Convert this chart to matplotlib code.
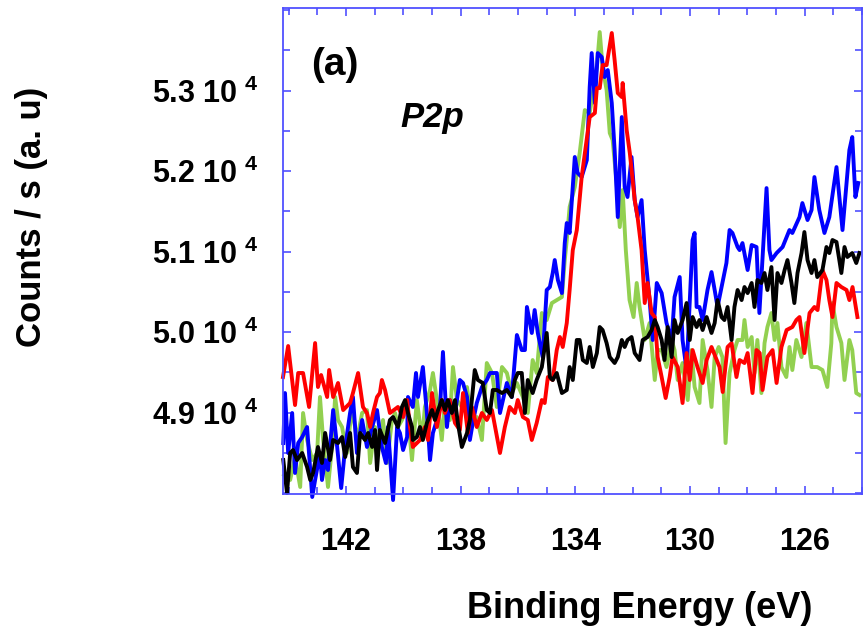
import matplotlib
matplotlib.use("Agg")
import matplotlib.pyplot as plt
from matplotlib.ticker import MultipleLocator, FixedLocator

plt.rcParams['font.family'] = ['Liberation Sans', 'DejaVu Sans']
plt.rcParams['font.weight'] = 'bold'
plt.rcParams['mathtext.fontset'] = 'custom'
plt.rcParams['mathtext.rm'] = 'Liberation Sans:bold'
plt.rcParams['mathtext.bf'] = 'Liberation Sans:bold'

# (binding energy eV, counts/s)
green = [(144.16, 48224), (143.95, 48162), (143.78, 48447), (143.60, 48075), (143.50, 48994), (143.36, 48659),
         (143.18, 48410), (143.01, 48497), (142.91, 49193), (142.80, 48659), (142.63, 48075), (142.49, 48572),
         (142.38, 49193), (142.28, 48907), (142.14, 48820), (141.97, 48497), (141.79, 49069), (141.62, 48659),
         (141.44, 48994), (141.27, 49031), (141.16, 48373), (140.99, 48820), (140.89, 48497), (140.71, 48907),
         (140.57, 48373), (140.40, 48907), (140.29, 48994), (140.19, 48820), (140.05, 48907), (139.87, 49069),
         (139.70, 48410), (139.53, 49155), (139.35, 48659), (139.25, 49069), (139.07, 49280), (138.97, 49491),
         (138.83, 49155), (138.66, 48659), (138.55, 49155), (138.38, 48907), (138.27, 49565), (138.13, 49155),
         (137.96, 49069), (137.78, 49317), (137.61, 48820), (137.44, 48944), (137.26, 48659), (137.09, 49615),
         (136.91, 49491), (136.74, 49069), (136.56, 49565), (136.39, 49491), (136.22, 49242), (136.04, 49367),
         (135.83, 49193), (135.66, 48994), (135.49, 49652), (135.35, 49491), (135.17, 50236), (135.00, 50149),
         (134.82, 50360), (134.65, 50397), (134.47, 50435), (134.37, 50894), (134.30, 51143), (134.20, 51553),
         (134.02, 51801), (133.85, 52223), (133.67, 52757), (133.50, 52720), (133.39, 52968), (133.25, 53291),
         (133.15, 53726), (133.05, 53291), (132.91, 53006), (132.80, 52472), (132.70, 52385), (132.56, 51851),
         (132.45, 51304), (132.35, 51764), (132.24, 51018), (132.11, 50397), (131.97, 50186), (131.86, 50609),
         (131.76, 50311), (131.58, 49901), (131.41, 50112), (131.23, 49404), (131.13, 49776), (130.99, 49776),
         (130.82, 49565), (130.64, 49901), (130.54, 49776), (130.43, 49404), (130.26, 49615), (130.08, 49155),
         (129.95, 49776), (129.84, 49317), (129.67, 49118), (129.56, 49901), (129.39, 49528), (129.25, 49069),
         (129.14, 49689), (129.00, 49814), (128.87, 49689), (128.76, 48621), (128.62, 49491), (128.45, 49776),
         (128.34, 49901), (128.17, 49901), (128.10, 50149), (127.99, 49814), (127.85, 49938), (127.75, 49491),
         (127.65, 49901), (127.51, 49242), (127.40, 49863), (127.30, 50062), (127.16, 50236), (127.05, 49901),
         (126.95, 50112), (126.81, 49565), (126.64, 49441), (126.53, 49814), (126.43, 49528), (126.29, 49901),
         (126.11, 49689), (125.94, 50112), (125.76, 49565), (125.56, 49565), (125.38, 49528), (125.21, 49317),
         (125.07, 49863), (125.03, 50360), (124.89, 50062), (124.72, 49863), (124.61, 49404), (124.44, 49901),
         (124.34, 49776), (124.20, 49242), (124.09, 49218)]

blue = [(144.19, 48621), (144.13, 49242), (144.02, 48497), (143.88, 48994), (143.78, 48249), (143.67, 48621),
        (143.53, 48696), (143.36, 48820), (143.25, 48286), (143.18, 47951), (143.08, 48162), (142.91, 48497),
        (142.84, 48162), (142.73, 48410), (142.63, 48286), (142.45, 49031), (142.31, 48572), (142.17, 48062),
        (142.03, 48572), (141.86, 48994), (141.76, 49193), (141.62, 48497), (141.44, 48907), (141.27, 48572),
        (141.09, 48820), (140.92, 49031), (140.75, 48572), (140.61, 48373), (140.54, 48820), (140.36, 47913),
        (140.22, 48820), (140.12, 48746), (140.01, 48534), (139.87, 48696), (139.84, 49193), (139.67, 49069),
        (139.56, 49491), (139.49, 49193), (139.32, 49565), (139.18, 48994), (139.07, 48410), (138.97, 48746),
        (138.83, 48907), (138.72, 49069), (138.62, 49752), (138.48, 48820), (138.38, 49155), (138.20, 48994),
        (138.03, 49404), (137.92, 49367), (137.78, 49193), (137.68, 48659), (137.58, 48870), (137.44, 49118),
        (137.26, 49317), (137.09, 49404), (136.98, 49491), (136.74, 49491), (136.63, 48994), (136.39, 49367),
        (136.22, 49193), (136.04, 49963), (135.87, 49776), (135.76, 49776), (135.69, 50311), (135.52, 49988),
        (135.42, 50273), (135.31, 49988), (135.14, 49689), (135.00, 50522), (134.89, 50559), (134.79, 50733),
        (134.72, 50894), (134.61, 50646), (134.47, 50484), (134.37, 51105), (134.30, 51354), (134.20, 51230),
        (134.02, 52174), (133.92, 51975), (133.78, 51925), (133.60, 52136), (133.50, 53043), (133.43, 53465),
        (133.32, 52844), (133.22, 53465), (133.08, 53416), (132.98, 53167), (132.87, 53254), (132.73, 52844),
        (132.63, 52260), (132.52, 51428), (132.38, 52670), (132.28, 51801), (132.18, 51677), (132.04, 52174),
        (131.93, 51639), (131.83, 51428), (131.69, 51639), (131.58, 51018), (131.41, 50397), (131.30, 49901),
        (131.16, 50609), (130.99, 50484), (130.82, 50112), (130.64, 49901), (130.54, 50435), (130.36, 50683),
        (130.26, 49901), (130.12, 49528), (129.91, 51143), (129.84, 51230), (129.77, 50311), (129.67, 50311),
        (129.56, 50149), (129.39, 50522), (129.25, 50745), (129.14, 50522), (129.04, 50311), (128.87, 50609),
        (128.73, 50857), (128.62, 51267), (128.52, 51230), (128.34, 51056), (128.27, 51018), (128.17, 51105),
        (127.99, 50770), (127.85, 51081), (127.68, 51056), (127.58, 50236), (127.33, 51788), (127.23, 51018),
        (127.16, 50894), (126.98, 50981), (126.77, 51056), (126.53, 51267), (126.43, 51230), (126.18, 51428),
        (126.08, 51602), (125.90, 51391), (125.76, 51515), (125.66, 51925), (125.49, 51515), (125.31, 51230),
        (125.14, 51428), (124.89, 52049), (124.68, 51267), (124.44, 52260), (124.34, 52422), (124.23, 51677),
        (124.13, 51851)]

red = [(144.20, 49441), (144.02, 49826), (143.78, 49093), (143.67, 49491), (143.50, 49491), (143.29, 49069),
       (143.08, 49863), (142.98, 49317), (142.87, 49466), (142.66, 49193), (142.59, 49528), (142.45, 49193),
       (142.28, 49367), (142.10, 49031), (141.86, 49118), (141.76, 49242), (141.58, 49491), (141.41, 49069),
       (141.27, 48994), (141.16, 48820), (141.06, 48994), (140.92, 49193), (140.82, 49242), (140.75, 49404),
       (140.64, 49280), (140.47, 48994), (140.19, 49069), (140.01, 48944), (139.87, 49155), (139.77, 48820),
       (139.67, 48572), (139.42, 48659), (139.25, 48820), (139.14, 48659), (139.00, 49242), (138.90, 48994),
       (138.83, 48820), (138.66, 49155), (138.55, 48994), (138.38, 49155), (138.20, 48870), (138.03, 48783),
       (137.92, 49242), (137.75, 48746), (137.61, 49069), (137.44, 48820), (137.26, 48994), (137.09, 48907),
       (136.91, 49031), (136.63, 48497), (136.46, 48820), (136.29, 49069), (136.11, 48994), (136.01, 49155),
       (135.83, 48944), (135.66, 48907), (135.52, 48659), (135.35, 48870), (135.17, 49155), (135.07, 49118),
       (134.96, 49441), (134.79, 49404), (134.65, 49776), (134.54, 49938), (134.44, 49814), (134.30, 50112),
       (134.20, 50522), (134.09, 51018), (133.95, 51266), (133.78, 51925), (133.50, 52670), (133.32, 52720),
       (133.25, 53030), (133.15, 53030), (133.05, 53316), (132.91, 53316), (132.73, 53714), (132.63, 53378),
       (132.52, 52968), (132.38, 52919), (132.35, 53093), (132.21, 52509), (132.10, 52223), (131.93, 51639),
       (131.83, 51428), (131.69, 51018), (131.58, 50360), (131.48, 50609), (131.34, 50236), (131.23, 50186),
       (131.13, 49690), (130.99, 49441), (130.85, 49180), (130.71, 49441), (130.61, 49690), (130.43, 49565),
       (130.26, 49118), (130.12, 49739), (130.01, 49404), (129.91, 49776), (129.74, 49565), (129.56, 49367),
       (129.42, 49652), (129.25, 49814), (129.07, 49652), (128.97, 49565), (128.86, 49255), (128.69, 49814),
       (128.55, 49863), (128.38, 49441), (128.27, 49652), (128.10, 49615), (127.99, 49739), (127.82, 49242),
       (127.68, 49776), (127.57, 49739), (127.47, 49280), (127.30, 49690), (127.12, 49776), (126.98, 49367),
       (126.81, 49814), (126.63, 50025), (126.43, 50062), (126.29, 50149), (126.18, 50186), (126.01, 49739),
       (125.83, 50236), (125.66, 50311), (125.55, 50273), (125.38, 50770), (125.24, 50646), (125.14, 50397),
       (125.03, 50186), (124.89, 50609), (124.72, 50559), (124.54, 50522), (124.44, 50397), (124.33, 50559),
       (124.16, 50186)]

black = [(144.19, 48410), (144.06, 48000), (143.95, 48497), (143.85, 48534), (143.71, 48410), (143.53, 48497),
         (143.36, 48323), (143.25, 48162), (143.15, 48249), (142.98, 48572), (142.84, 48373), (142.73, 48746),
         (142.56, 48410), (142.45, 48659), (142.28, 48621), (142.14, 48696), (142.03, 48447), (141.86, 48746),
         (141.76, 48323), (141.62, 48249), (141.51, 48746), (141.34, 48659), (141.23, 48746), (141.09, 48572),
         (140.99, 48783), (140.92, 48286), (140.82, 48783), (140.64, 48621), (140.47, 48907), (140.36, 48944),
         (140.19, 48820), (140.05, 49069), (139.94, 49155), (139.84, 48994), (139.70, 48820), (139.67, 48659),
         (139.53, 48696), (139.42, 48820), (139.32, 48659), (139.18, 48870), (139.00, 49031), (138.90, 48907),
         (138.79, 49031), (138.66, 49155), (138.55, 49031), (138.45, 49155), (138.31, 48994), (138.20, 49155),
         (138.10, 48870), (137.96, 48572), (137.78, 48746), (137.68, 48907), (137.51, 49528), (137.40, 49404),
         (137.23, 49367), (137.09, 49031), (136.98, 48994), (136.88, 49280), (136.74, 49280), (136.56, 49242),
         (136.39, 49280), (136.22, 49193), (136.11, 49404), (136.01, 49491), (135.87, 49491), (135.76, 48994),
         (135.66, 49404), (135.49, 49242), (135.35, 49404), (135.17, 49565), (135.00, 49988), (134.89, 49441),
         (134.79, 49404), (134.65, 49491), (134.47, 49242), (134.30, 49280), (134.20, 49565), (134.09, 49404),
         (133.95, 49901), (133.85, 49901), (133.74, 49652), (133.60, 49615), (133.50, 49814), (133.39, 49565),
         (133.25, 49739), (133.15, 50062), (133.05, 50025), (132.91, 49863), (132.80, 49689), (132.63, 49615),
         (132.52, 49689), (132.38, 49901), (132.28, 49814), (132.18, 49901), (132.04, 49938), (131.93, 49739),
         (131.76, 49652), (131.65, 49901), (131.48, 49938), (131.34, 50025), (131.23, 50149), (131.13, 50062),
         (130.99, 49901), (130.89, 49652), (130.78, 50062), (130.64, 49689), (130.54, 50149), (130.43, 49988),
         (130.26, 50149), (130.12, 50360), (130.01, 49901), (129.91, 50186), (129.77, 50062), (129.67, 50149),
         (129.56, 50025), (129.42, 50186), (129.25, 49988), (129.14, 50112), (129.04, 50397), (128.90, 50186),
         (128.80, 50149), (128.69, 50311), (128.55, 49901), (128.45, 50311), (128.34, 50522), (128.20, 50397),
         (128.10, 50559), (127.99, 50484), (127.85, 50609), (127.75, 50311), (127.65, 50646), (127.51, 50609),
         (127.40, 50733), (127.30, 50522), (127.16, 50807), (127.05, 50149), (126.95, 50733), (126.81, 50609),
         (126.70, 50770), (126.60, 50894), (126.46, 50609), (126.36, 50360), (126.25, 50733), (126.11, 50981),
         (126.01, 51242), (125.90, 50894), (125.76, 50733), (125.66, 50894), (125.56, 50683), (125.38, 50770),
         (125.24, 51056), (125.14, 50981), (125.03, 51143), (124.89, 51118), (124.72, 50733), (124.61, 51056),
         (124.51, 50932), (124.34, 50981), (124.20, 50857), (124.09, 50981)]

xticks = [142, 138, 134, 130, 126]
yticks = [49000, 50000, 51000, 52000, 53000]
ylabels = ['4.9 10$^{\\,\\,4}$', '5.0 10$^{\\,\\,4}$', '5.1 10$^{\\,\\,4}$', '5.2 10$^{\\,\\,4}$', '5.3 10$^{\\,\\,4}$']

spine_col = '#5050ff'

fig = plt.figure(figsize=(8.65, 6.37), dpi=100)
ax = fig.add_axes([283/865, 1-494/637, 579/865, 486/637])

for data, col in [(green, '#92d050'), (blue, '#0000ff'), (red, '#ff0000'), (black, '#000000')]:
    e = [p[0] for p in data]
    c = [p[1] for p in data]
    ax.plot(e, c, color=col, lw=2.8, clip_on=False)

ax.set_xlim(144.2, 124.0)
ax.set_ylim(47988, 54025)

ax.xaxis.set_major_locator(FixedLocator(xticks))
ax.xaxis.set_minor_locator(MultipleLocator(1))
ax.yaxis.set_major_locator(FixedLocator(yticks))
ax.yaxis.set_minor_locator(MultipleLocator(500))
ax.set_xticklabels([str(t) for t in xticks])
ax.set_yticklabels(ylabels)

ax.tick_params(which='both', direction='in', top=True, right=True, color=spine_col, width=1.2)
ax.tick_params(which='major', length=6)
ax.tick_params(which='minor', length=5)
ax.tick_params(axis='x', which='major', labelsize=22, pad=24)
ax.tick_params(axis='y', which='major', labelsize=22, pad=18)
for s in ax.spines.values():
    s.set_color(spine_col)
    s.set_linewidth(1.3)

ax.text(0.09, 0.883, '(a)', transform=ax.transAxes, fontsize=28, fontweight='bold',
        ha='center', va='center')
ax.text(0.257, 0.774, 'P2p', transform=ax.transAxes, fontsize=25, fontweight='bold',
        style='italic', ha='center', va='center')

fig.text(0.740, 0.045, 'Binding Energy (eV)', fontsize=26, fontweight='bold', ha='center', va='center')
fig.text(0.036, 0.659, 'Counts / s (a. u)', fontsize=25, fontweight='bold', ha='center', va='center',
         rotation=90)

fig.savefig('out.png', dpi=100)
